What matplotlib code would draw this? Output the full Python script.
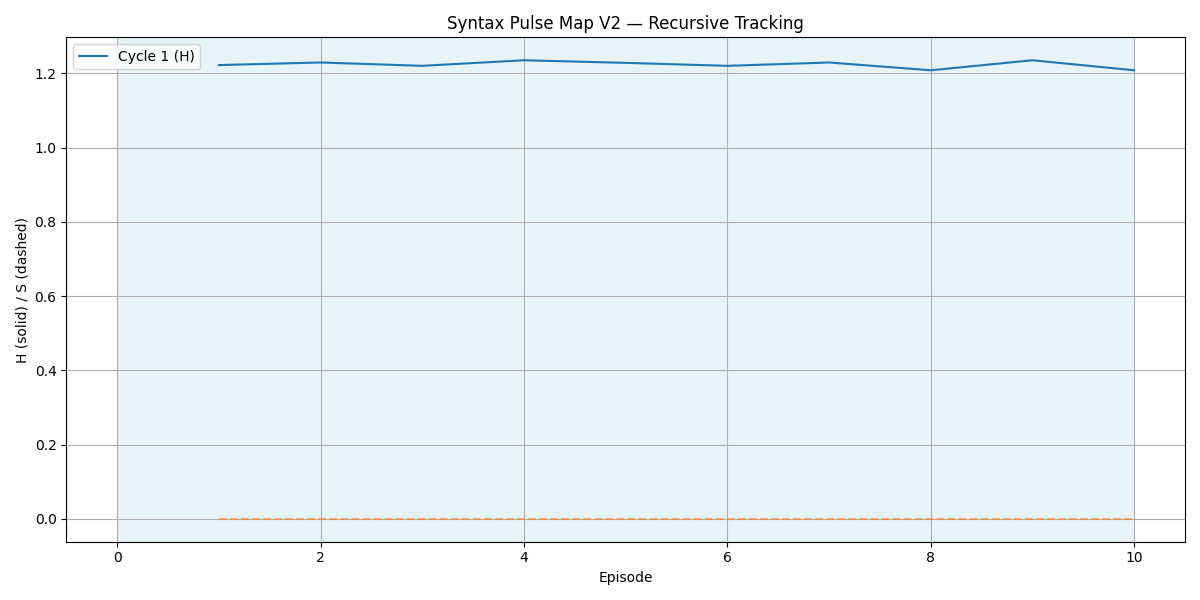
import numpy as np
import matplotlib
matplotlib.use("Agg")
import matplotlib.pyplot as plt

# --- data ---
episodes = [1, 2, 3, 4, 5, 6, 7, 8, 9, 10]
h_values = [1.222, 1.229, 1.220, 1.235, 1.228, 1.220, 1.229, 1.208, 1.235, 1.208]
s_values = [0.0, 0.0, 0.0, 0.0, 0.0, 0.0, 0.0, 0.0, 0.0, 0.0]
span_start, span_end = 0, 10

fig, ax = plt.subplots(figsize=(12, 6), dpi=100)
ax.axvspan(span_start, span_end, color='lightblue', alpha=0.3)
ax.plot(episodes, h_values, color='tab:blue', label='Cycle 1 (H)')
ax.plot(episodes, s_values, color='tab:orange', linestyle='--', alpha=0.6)

ax.set_title("Syntax Pulse Map V2 — Recursive Tracking")
ax.set_xlabel("Episode")
ax.set_ylabel("H (solid) / S (dashed)")
ax.grid(True)
ax.legend(loc='upper left')

plt.tight_layout()
plt.savefig("out.png")
